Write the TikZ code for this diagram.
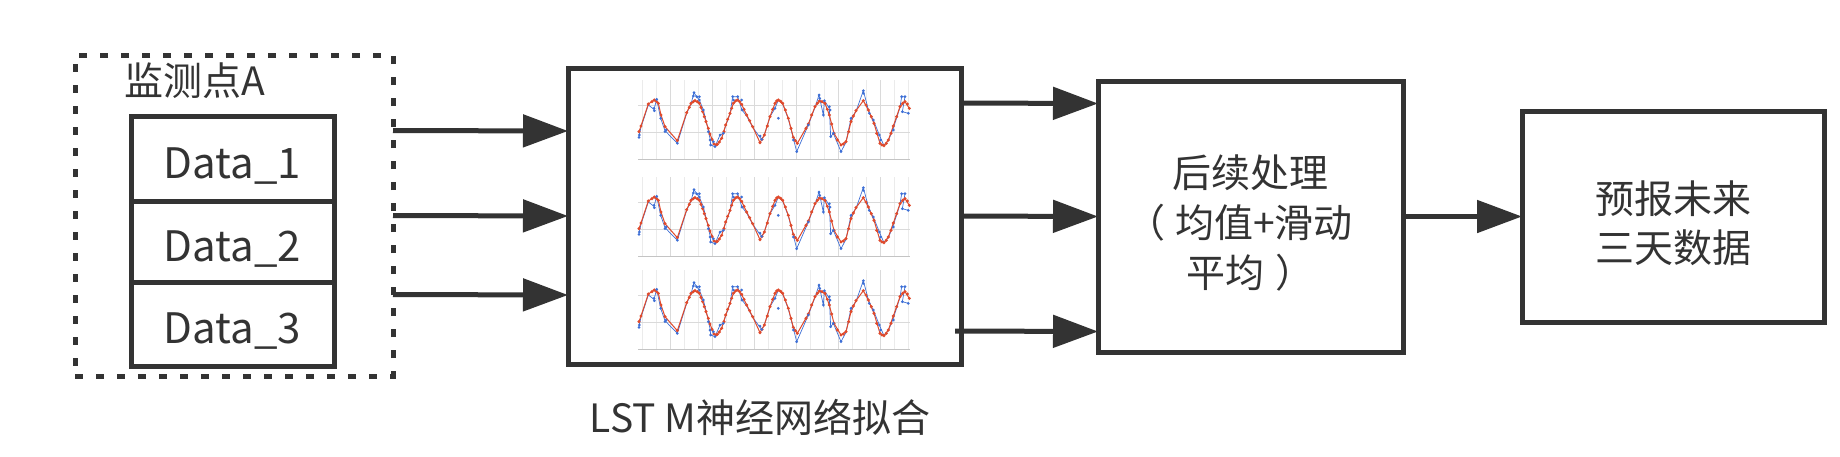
\documentclass[tikz,border=0pt]{standalone}
\usepackage{fontspec}
\setmainfont{Noto Sans CJK SC}
\usetikzlibrary{arrows.meta}
\definecolor{ink}{HTML}{333333}
\definecolor{redc}{HTML}{E04A2C}
\definecolor{bluec}{HTML}{3D6FD6}
\definecolor{gridl}{HTML}{EBEBEB}
\definecolor{gridd}{HTML}{DADADA}
\definecolor{axisc}{HTML}{C4C4C4}
\newcommand\lowtext[2]{\raisebox{-#1}[0pt][0pt]{#2}}
\newcommand\lstmcurve{%
  \draw[bluec, line width=0.7pt] plot coordinates {(237,258) (243,232) (265,165) (282,178) (290,148) (302,205) (315,242) (352,280) (380,190) (393,162) (402,128) (410,140) (418,150) (430,180) (440,220) (450,265) (452,285) (465,290) (480,255) (490,250) (497,228) (510,192) (518,140) (533,140) (546,180) (560,198) (578,232) (600,262) (605,268) (613,255) (630,200) (645,175) (655,150) (668,162) (685,207) (700,265) (710,305) (745,225) (765,172) (777,135) (790,195) (793,152) (808,175) (812,260) (820,250) (843,305) (858,277) (873,205) (888,184) (910,122) (928,190) (940,210) (958,255) (972,287) (985,272) (1000,235) (1020,172) (1025,140) (1035,140) (1027,185) (1045,190)};
  \draw[redc, line width=1pt, line join=round] plot coordinates {(237,245) (243,228) (265,162) (283,150) (295,160) (303,195) (315,230) (352,272) (380,188) (393,160) (405,152) (418,160) (428,185) (438,215) (450,252) (462,282) (472,283) (485,265) (497,225) (510,190) (520,160) (532,150) (545,163) (560,195) (578,230) (600,278) (613,255) (630,200) (645,160) (655,150) (668,160) (685,205) (700,262) (712,280) (745,222) (765,170) (778,153) (795,160) (808,195) (822,250) (843,285) (858,275) (873,215) (888,182) (910,152) (925,180) (942,220) (960,280) (972,287) (985,270) (1000,228) (1020,170) (1035,155) (1048,175)};
  \foreach \p in {(237,245),(243,228),(265,162),(276,155),(283,150),(289,154),(295,160),(303,195),(315,230),(352,272),(380,188),(388,172),(393,160),(400,155),(405,152),(412,155),(418,160),(423,172),(428,185),(433,200),(438,215),(445,235),(450,252),(456,268),(462,282),(468,285),(472,283),(478,276),(485,265),(492,245),(497,225),(503,208),(510,190),(515,175),(520,160),(526,153),(532,150),(539,155),(545,163),(552,178),(560,195),(569,212),(578,230),(600,278),(606,268),(613,255),(622,228),(630,200),(638,178),(645,160),(650,153),(655,150),(662,154),(668,160),(676,180),(685,205),(693,235),(700,262),(706,272),(712,280),(738,235),(745,222),(755,195),(765,170),(772,160),(778,153),(786,155),(795,160),(802,178),(808,195),(815,222),(822,250),(832,270),(843,285),(850,282),(858,275),(866,245),(873,215),(880,198),(888,182),(910,152),(918,165),(925,180),(934,200),(942,220),(950,250),(960,280),(966,285),(972,287),(979,280),(985,270),(993,250),(1000,228),(1010,200),(1020,170),(1028,160),(1035,155),(1042,162),(1048,175)}
    \fill[redc] \p circle[radius=1.7pt];
  \foreach \p in {(237,262),(238,255),(282,175),(283,182),(290,148),(302,205),(315,245),(318,240),(352,280),(400,138),(402,128),(410,140),(418,140),(418,150),(430,180),(445,245),(450,270),(452,285),(460,275),(465,290),(480,255),(490,250),(518,140),(520,150),(533,140),(545,150),(546,180),(600,258),(605,268),(645,175),(655,205),(700,270),(710,305),(745,225),(777,135),(779,145),(790,195),(793,152),(808,170),(810,180),(812,260),(820,250),(843,305),(873,205),(910,122),(910,130),(928,190),(940,210),(958,255),(962,270),(1000,240),(1025,140),(1035,140),(1027,185),(1045,190)}
    \fill[bluec] \p circle[radius=1.5pt];
}
\newcommand\chartgrid{%
  \foreach \k in {0,...,19} {
    \pgfmathtruncatemacro\m{mod(\k,3)}
    \ifnum\m=2 \draw[gridd, line width=0.8pt] ({4+14*\k},0) -- ({4+14*\k},79);
    \else \draw[gridl, line width=0.8pt] ({4+14*\k},0) -- ({4+14*\k},79); \fi
  }
  \draw[gridd, line width=0.8pt] (0,25) -- (272,25);
  \draw[gridd, line width=0.8pt] (0,52) -- (272,52);
  \draw[axisc, line width=1pt] (0,79) -- (272,79);
}
\begin{document}
\begin{tikzpicture}[x=1pt,y=-1pt,
  box/.style={draw=ink, line width=5pt, rectangle, inner sep=0pt, outer sep=0pt, text=ink},
  databox/.style={box, minimum width=203pt, font=\fontsize{42}{42}\selectfont},
  lbl/.style={text=ink, inner sep=0pt, font=\fontsize{39}{50}\selectfont},
  arr/.style={draw=ink, line width=5pt, -{Triangle[length=45pt,width=32pt]}}]
\useasboundingbox[fill=white] (0,0) rectangle (1840,456);
% monitoring site (dashed)
\node[box, dash pattern=on 8pt off 13pt, minimum width=318pt, minimum height=321pt] (site) at (234,215.5) {};
\node[lbl] (sitelabel) at (195,81) {监测点A};
\node[databox, minimum height=85pt] (d1) at (232.5,158.5) {\lowtext{19.5pt}{Data\_1}};
\node[databox, minimum height=81pt] (d2) at (232.5,241.5) {\lowtext{19.5pt}{Data\_2}};
\node[databox, minimum height=84pt] (d3) at (232.5,324) {\lowtext{19.5pt}{Data\_3}};
% LSTM box
\node[box, minimum width=393pt, minimum height=296pt] (lstm) at (764.5,216) {};
\foreach \dy in {0,97,190} {
  \begin{scope}[shift={(638pt,{-(80+\dy)*1pt})}]
    \chartgrid
  \end{scope}
  \begin{scope}[shift={(560pt,{-(50+\dy)*1pt})}, x=0.33333pt, y=-0.33333pt]
    \lstmcurve
  \end{scope}
}
\node[lbl] (lstmlabel) at (760,417) {LST M神经网络拟合};
% post-processing
\node[box, minimum width=305pt, minimum height=271pt, align=center, font=\fontsize{39}{50}\selectfont] (proc) at (1250.5,216.5) {\lowtext{20.5pt}{后续处理}\\\lowtext{20.5pt}{\makebox[0.7em][l]{\hspace{-0.55em}（}均值+滑动}\\\lowtext{20.5pt}{平均\hspace{0.3em}）}};
% prediction
\node[box, minimum width=302pt, minimum height=211pt, align=center, font=\fontsize{39}{49}\selectfont] (pred) at (1673,216.5) {\lowtext{21pt}{预报未来}\\\lowtext{21pt}{三天数据}};
% arrows
\draw[arr] ([yshift=85pt]site.east) -- ([yshift=85pt]lstm.west);
\draw[arr] (site.east) -- (lstm.west);
\draw[arr] ([yshift=-79pt]site.east) -- ([yshift=-79pt]lstm.west);
\draw[arr] ([yshift=113pt]lstm.east) -- ([yshift=113pt]proc.west);
\draw[arr] (lstm.east) -- (proc.west);
\draw[arr] ([xshift=-6pt,yshift=-115pt]lstm.east) -- ([yshift=-115pt]proc.west);
\draw[arr] (proc.east) -- (pred.west);
\end{tikzpicture}
\end{document}
